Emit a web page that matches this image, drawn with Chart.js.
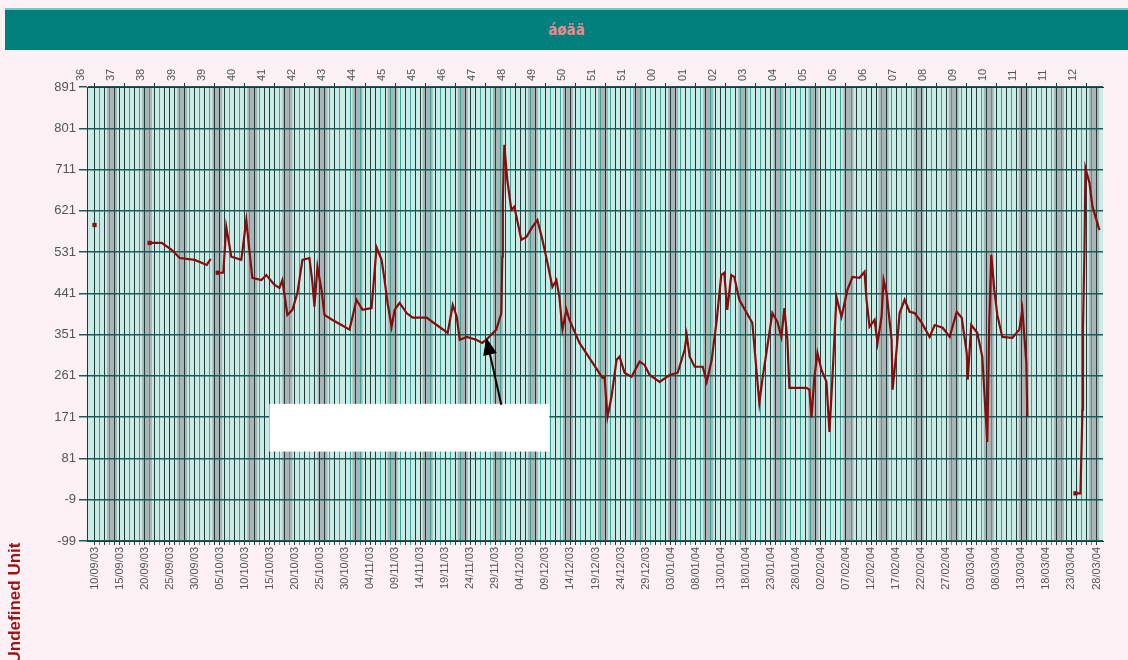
<!DOCTYPE html>
<html>
<head>
<meta charset="utf-8">
<script src="https://cdn.jsdelivr.net/npm/chart.js@4.4.0/dist/chart.umd.min.js"></script>
<style>
  html, body { margin: 0; padding: 0; background: #fdf1f5; }
  #wrap { position: relative; width: 1128px; height: 660px; overflow: hidden; }
  #titleBar {
    position: absolute; left: 5px; top: 8px; width: 1123px; height: 40px;
    background: #017f7d; border-top: 2px solid #66cfca;
    color: #e88c92; font: bold 15px "DejaVu Sans Condensed", "DejaVu Sans", sans-serif;
    text-align: center; line-height: 40px; z-index: 2;
  }
  canvas { position: absolute; left: 0; top: 0; }
</style>
</head>
<body>
<div id="wrap">
  <div id="titleBar">áøää</div>
  <canvas id="myChart" width="1128" height="660"></canvas>
</div>
<script>
// bottom axis labels, one every 5 days starting 10/09/03
const dateLabels = ['10/09/03','15/09/03','20/09/03','25/09/03','30/09/03','05/10/03','10/10/03','15/10/03',
  '20/10/03','25/10/03','30/10/03','04/11/03','09/11/03','14/11/03','19/11/03','24/11/03','29/11/03',
  '04/12/03','09/12/03','14/12/03','19/12/03','24/12/03','29/12/03','03/01/04','08/01/04','13/01/04',
  '18/01/04','23/01/04','28/01/04','02/02/04','07/02/04','12/02/04','17/02/04','22/02/04','27/02/04',
  '03/03/04','08/03/04','13/03/04','18/03/04','23/03/04','28/03/04'];
// top axis week numbers, one every 6 days
const weekLabels = ['36','37','38','39','39','40','41','42','43','44','45','45','46','47','48','49','50',
  '51','51','00','01','02','03','04','05','05','06','07','08','09','10','11','11','12'];
const yTicks = [-99, -9, 81, 171, 261, 351, 441, 531, 621, 711, 801, 891];

// series: day offset from 10/09/03 and value (null = no data)
const pointDays = [0, 5,
  11, 13.4, 15.4, 17, 20, 22.4, 23.2, 24,
  24.6, 25.7, 26.3, 27.3, 29.3, 30.3, 30.9, 31.5, 33.3, 34.3, 35.9, 36.9, 37.5, 38.5, 39.5, 40.5,
  41.5, 42.9, 43.5, 43.9, 44.5, 45.3, 45.9, 47.5, 49.3, 50.9, 52.3, 53.5, 55.3, 56.3, 57.3, 57.9,
  58.5, 59.3, 59.9, 60.9, 62.3, 63.5, 66.3, 68.3, 70.5, 71.5, 72.3, 72.9, 74.3, 76.2, 77.4, 78.4,
  80.2, 81.2, 81.4, 81.5, 81.8, 82.4, 83.2, 83.8, 85.2, 86.2, 87.4, 88.4, 89.4, 90.4, 91.4, 92.2,
  92.8, 93.4, 94.2, 94.8, 96.8, 99.4, 101.4, 101.8, 102.4, 103.2, 104.2, 104.8, 105.8, 107.2, 108.8,
  109.8, 110.8, 112.8, 114.8, 116.4, 117.8, 118.2, 118.8, 119.8, 121.4, 122.2, 123.2, 124.2, 125.1,
  125.7, 126.3, 127.1, 127.7, 128.7, 131.3, 132.7, 133.3, 134.3, 135.3, 136.3, 137.1, 137.7, 138.3,
  138.7, 142.1, 142.7, 143.1, 143.7, 144.3, 145.1, 146.1, 146.7, 147.3, 148.1, 149.1, 150.3, 151.3,
  152.7, 153.7, 154.1, 154.7, 155.7, 156.3, 157.1, 157.5, 158.1, 159.1, 159.3, 160.1, 160.7, 161.7,
  162.7, 163.7, 165.1, 166.7, 167.7, 169.3, 170.7, 172.1, 173.1, 174.1, 174.3, 175.0, 176.2, 177.2,
  178.2, 178.6, 179.0, 179.6, 180.2, 181.2, 183.2, 184.6, 185.2, 186.0, 186.2, 190,
  195.8, 196.8, 197.2, 197.3, 197.6, 197.8, 198.6, 199.2, 200.6];
const pointValues = [590, null,
  551, 551, 536, 518, 514, 503, 516, null,
  486, 486, 586, 521, 514, 601, 536, 475, 470, 481, 460, 453, 470, 394, 405, 442,
  514, 518, 464, 412, 499, 449, 394, 383, 372, 362, 427, 405, 409, 541, 514, 470,
  420, 368, 405, 420, 398, 388, 388, 372, 355, 416, 390, 340, 346, 340, 333, 342,
  362, 398, 521, 638, 765, 688, 623, 630, 558, 564, 586, 601, 558, 508, 455, 470,
  433, 362, 405, 383, 333, 290, 257, 259, 172, 216, 296, 303, 268, 259, 292,
  285, 263, 248, 263, 268, 318, 351, 303, 281, 281, 248, 296, 383, 481,
  486, 405, 481, 477, 427, 377, 202, 253, 325, 398, 379, 346, 409, 340,
  235, 235, 231, 170, 259, 311, 274, 248, 139, 259, 433, 390, 449, 477,
  475, 488, 427, 368, 383, 333, 390, 470, 442, 340, 231, 318, 398, 427,
  401, 398, 377, 346, 372, 366, 346, 401, 388, 311, 253, 372, 355, 303,
  117, 377, 525, 449, 394, 346, 344, 362, 405, 290, 172, null,
  5, 5, 187, 362, 536, 714, 682, 630, 579];

const xMin = -1.5, xMax = 201.3;
const lineColor = '#850d0d';

const chartDecor = {
  id: 'chartDecor',
  beforeDraw(chart) {
    const { ctx, chartArea: a, scales } = chart;
    ctx.save();
    ctx.fillStyle = '#c9ebe6';
    ctx.fillRect(a.left, a.top, a.right - a.left, a.bottom - a.top);
    // weekend bands
    ctx.fillStyle = '#a9b6b5';
    for (let d = 3; d <= 201; d += 7) {
      const x0 = scales.x.getPixelForValue(d - 0.5);
      const x1 = scales.x.getPixelForValue(d + 1.5);
      ctx.fillRect(Math.max(x0, a.left), a.top, Math.min(x1, a.right) - Math.max(x0, a.left), a.bottom - a.top);
    }
    ctx.restore();
  },
  afterDatasetsDraw(chart) {
    const { ctx, scales } = chart;
    const x = scales.x, y = scales.y;
    ctx.save();
    // white note box
    const bx0 = x.getPixelForValue(34.9), bx1 = x.getPixelForValue(90.8);
    const by0 = y.getPixelForValue(200), by1 = y.getPixelForValue(96);
    ctx.fillStyle = '#ffffff';
    ctx.fillRect(bx0, by0, bx1 - bx0, by1 - by0);
    // arrow
    const sx = x.getPixelForValue(81.2), sy = y.getPixelForValue(198);
    const tx = x.getPixelForValue(78.2), ty = y.getPixelForValue(344);
    const ang = Math.atan2(ty - sy, tx - sx);
    ctx.strokeStyle = '#000';
    ctx.lineWidth = 2;
    ctx.beginPath();
    ctx.moveTo(sx, sy);
    ctx.lineTo(tx - 12 * Math.cos(ang), ty - 12 * Math.sin(ang));
    ctx.stroke();
    ctx.fillStyle = '#000';
    ctx.beginPath();
    ctx.moveTo(tx, ty);
    ctx.lineTo(tx - 17 * Math.cos(ang) + 7 * Math.sin(ang), ty - 17 * Math.sin(ang) - 7 * Math.cos(ang));
    ctx.lineTo(tx - 17 * Math.cos(ang) - 7 * Math.sin(ang), ty - 17 * Math.sin(ang) + 7 * Math.cos(ang));
    ctx.closePath();
    ctx.fill();
    // axis unit title, low on the left
    ctx.translate(15, 603);
    ctx.rotate(-Math.PI / 2);
    ctx.fillStyle = '#9c1414';
    ctx.font = 'bold 17px "Liberation Sans Narrow", "Liberation Sans", Arial, sans-serif';
    ctx.textAlign = 'center';
    ctx.textBaseline = 'middle';
    ctx.fillText('Undefined Unit', 0, 0);
    ctx.restore();
  }
};

const isSegmentStart = (i) => pointValues[i] !== null && (i === 0 || pointValues[i - 1] === null);
const darkDay = (d) => d % 2 === 0 || d % 5 === 0;

const ctx = document.getElementById('myChart').getContext('2d');
new Chart(ctx, {
  type: 'line',
  data: {
    datasets: [{
      data: pointDays.map((d, i) => ({ x: d, y: pointValues[i] })),
      borderColor: lineColor,
      borderWidth: 2.2,
      backgroundColor: lineColor,
      pointStyle: 'rect',
      pointRadius: (c) => isSegmentStart(c.dataIndex) ? 3 : 0,
      pointBorderWidth: 0,
      spanGaps: false,
      tension: 0,
      xAxisID: 'x',
      yAxisID: 'y'
    }]
  },
  options: {
    responsive: false,
    animation: false,
    events: [],
    layout: { padding: { left: 0, right: 25, top: 50, bottom: 0 } },
    plugins: { legend: { display: false }, tooltip: { enabled: false } },
    scales: {
      x: {
        type: 'linear', position: 'bottom', min: xMin, max: xMax,
        afterBuildTicks: (s) => {
          const t = [];
          for (let d = 0; d <= 200; d++) t.push({ value: d });
          s.ticks = t;
        },
        afterFit: (s) => { s.height = 119; },
        ticks: {
          autoSkip: false, maxRotation: 90, minRotation: 90, padding: 2,
          color: '#555', font: { family: 'Liberation Sans', size: 11 },
          callback: (v) => (v % 5 === 0 ? dateLabels[v / 5] : '')
        },
        grid: {
          color: (c) => (c.tick && darkDay(c.tick.value) ? '#243c3d' : '#38a196'),
          lineWidth: 1, tickLength: 4
        },
        border: { color: '#1d3a3a' }
      },
      x2: {
        type: 'linear', position: 'top', min: xMin, max: xMax,
        afterBuildTicks: (s) => { s.ticks = weekLabels.map((w, i) => ({ value: i * 6 })); },
        afterFit: (s) => { s.height = 37; },
        ticks: {
          autoSkip: false, maxRotation: 90, minRotation: 90, padding: 2,
          color: '#555', font: { family: 'Liberation Sans', size: 11 },
          callback: (v) => weekLabels[v / 6]
        },
        grid: { color: '#1d3a3a', lineWidth: 1, tickLength: 4 },
        border: { color: '#1d3a3a' }
      },
      y: {
        type: 'linear', min: -99, max: 891,
        afterBuildTicks: (s) => { s.ticks = yTicks.map((v) => ({ value: v })); },
        afterFit: (s) => { s.width = 87; },
        ticks: { color: '#555', font: { family: 'Liberation Sans', size: 13 }, padding: 3 },
        grid: { color: '#1c5b57', lineWidth: 1.5, tickLength: 8 },
        border: { color: '#1d3a3a' }
      }
    }
  },
  plugins: [chartDecor]
});
</script>
</body>
</html>
